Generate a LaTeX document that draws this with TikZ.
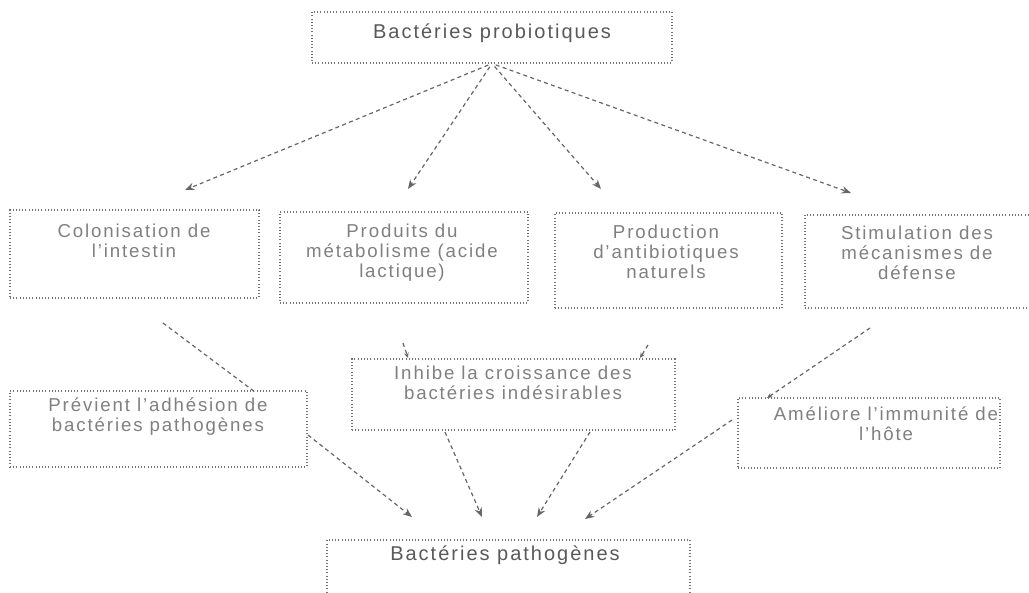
\documentclass[tikz,border=0pt]{standalone}
\usepackage{fontspec}
\setmainfont{Liberation Sans}[LetterSpace=10]
\usetikzlibrary{arrows.meta}
\definecolor{txtgray}{gray}{0.5}
\definecolor{boxgray}{gray}{0.45}
\definecolor{arrgray}{gray}{0.4}
\begin{document}
\begin{tikzpicture}[x=0.75pt,y=-0.75pt,
  box/.style={draw=boxgray, line width=0.8pt, dash pattern=on 0.8pt off 1.6pt, inner sep=0pt},
  lbl/.style={text=txtgray, font=\fontsize{14pt}{15pt}\selectfont, align=center, inner sep=0pt},
  title/.style={text=black!65, font=\fontsize{15pt}{16pt}\selectfont, align=center, inner sep=0pt},
  conn/.style={draw=arrgray, line width=0.9pt, dash pattern=on 3pt off 2.5pt},
  head/.style={-{Stealth[length=7pt,width=5.5pt]}}]
\useasboundingbox (0,0) rectangle (1029,593);
\clip (0,0) rectangle (1029,593);
% boxes
\node[box, minimum width=270pt, minimum height=38.25pt] (top) at (492,37.5) {};
\node[box, minimum width=186.75pt, minimum height=66pt] (c1) at (134.5,254) {};
\node[box, minimum width=186pt, minimum height=68.25pt] (c2) at (404,257.5) {};
\node[box, minimum width=170.25pt, minimum height=71.25pt] (c3) at (668.5,260.5) {};
\node[box, minimum width=176.25pt, minimum height=69.75pt] (c4) at (922.5,261.5) {};
\node[box, minimum width=222.75pt, minimum height=57pt] (p) at (158.5,429) {};
\node[box, minimum width=242.25pt, minimum height=53.25pt] (inh) at (513.5,394.5) {};
\node[box, minimum width=196.5pt, minimum height=52.5pt] (am) at (869,433) {};
\node[box, minimum width=272.25pt, minimum height=60pt] (bot) at (508.5,580) {};
% texts
\node[title] (t0) at (492,33) {Bactéries probiotiques};
\node[lbl] (t1) at (134,241) {Colonisation de\\l'intestin};
\node[lbl] (t2) at (402,253) {Produits du\\métabolisme (acide\\lactique)};
\node[lbl] (t3) at (666,252) {Production\\d'antibiotiques\\naturels};
\node[lbl] (t4) at (917,253) {Stimulation des\\mécanismes de\\défense};
\node[lbl] (t5) at (158,417) {Prévient l'adhésion de\\bactéries pathogènes};
\node[lbl] (t6) at (513,383) {Inhibe la croissance des\\bactéries indésirables};
\node[lbl] (t7) at (886,424) {Améliore l'immunité de\\l'hôte};
\node[title] (t8) at (505,555) {Bactéries pathogènes};
% free ends
\coordinate (a1) at (185,190);
\coordinate (a2) at (408,189);
\coordinate (a3) at (601,189);
\coordinate (a4) at (851,193);
\coordinate (l1a) at (163,323);
\coordinate (l1b) at (255,392);
\coordinate (l2a) at (403,343);
\coordinate (l2b) at (408,358);
\coordinate (l3a) at (648,345);
\coordinate (l3b) at (640,358);
\coordinate (l4a) at (870,328);
\coordinate (l4b) at (767,398);
\coordinate (m1a) at (308,435);
\coordinate (m1b) at (412,517);
\coordinate (m2a) at (445,432);
\coordinate (m2b) at (482,517);
\coordinate (m3a) at (590,432);
\coordinate (m3b) at (537,517);
\coordinate (m4a) at (732,420);
\coordinate (m4b) at (585,519);
% connectors
\draw[conn, head, shorten <=3pt] (top.south) -- (a1);
\draw[conn, head, shorten <=3pt] (top.south) -- (a2);
\draw[conn, head, shorten <=3pt] (top.south) -- (a3);
\draw[conn, head, shorten <=3pt] (top.south) -- (a4);
\draw[conn] (l1a) -- (l1b);
\draw[conn, -{Stealth[length=4pt,width=3.5pt]}] (l2a) -- (l2b);
\draw[conn, -{Stealth[length=4pt,width=3.5pt]}] (l3a) -- (l3b);
\draw[conn, -{Stealth[length=4pt,width=3.5pt]}] (l4a) -- (l4b);
\draw[conn, head] (m1a) -- (m1b);
\draw[conn, head] (m2a) -- (m2b);
\draw[conn, head] (m3a) -- (m3b);
\draw[conn, head] (m4a) -- (m4b);
\end{tikzpicture}
\end{document}
